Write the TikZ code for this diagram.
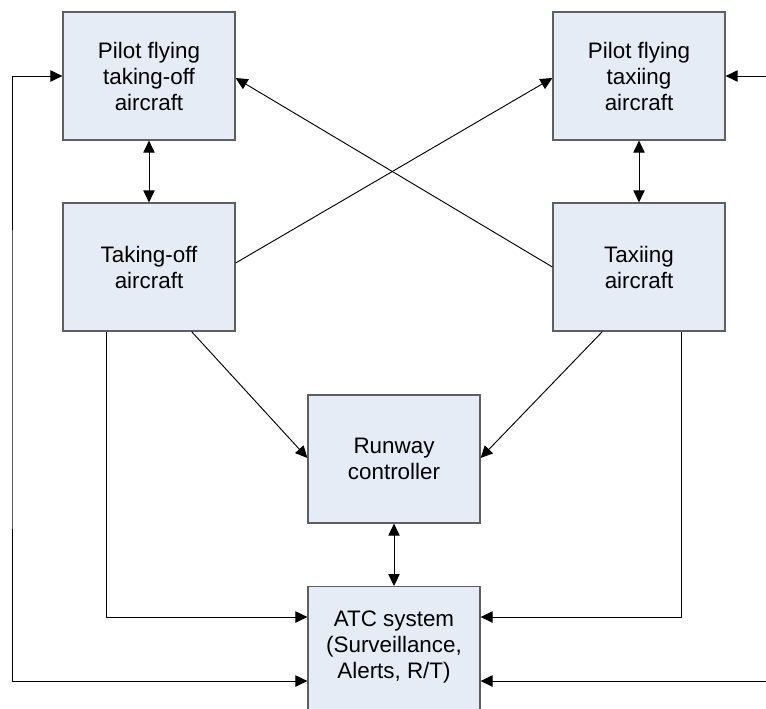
\documentclass[tikz,border=0pt]{standalone}
\usepackage{fontspec}
\setmainfont{Liberation Sans}
\usetikzlibrary{arrows.meta,calc}
\definecolor{boxfill}{RGB}{230,236,246}
\definecolor{boxline}{RGB}{95,95,95}
\tikzset{
  blk/.style={draw=boxline, line width=0.9pt, fill=boxfill, rectangle,
    minimum width=129pt, minimum height=96pt, inner sep=2pt, align=center,
    font=\fontsize{16.8pt}{19.5pt}\selectfont},
  conn/.style={draw=black, line width=0.7pt, -{Triangle[length=9pt,width=8.5pt]}},
  bconn/.style={draw=black, line width=0.7pt, {Triangle[length=9pt,width=8.5pt]}-{Triangle[length=9pt,width=8.5pt]}}
}
\begin{document}
\begin{tikzpicture}[x=0.75pt,y=-0.75pt]
\useasboundingbox (0,0) rectangle (766,708);
\clip (0,0) rectangle (766,708);
\node[blk] (pto) at (149,76) {Pilot flying\\taking-off\\aircraft};
\node[blk] (ptx) at (639,76) {Pilot flying\\taxiing\\aircraft};
\node[blk] (to) at (149,267) {Taking-off\\aircraft};
\node[blk] (tx) at (639,267) {Taxiing\\aircraft};
\node[blk] (rc) at (394,459) {Runway\\controller};
\node[blk, minimum height=140pt, anchor=north] (atc) at (394,586) {};
\node[font=\fontsize{16.8pt}{19.5pt}\selectfont, align=center] (atct) at (394,647) {ATC system\\(Surveillance,\\Alerts, R/T)};
\coordinate (L) at (12,380);
\coordinate (R1) at (770,76);
\coordinate (R2) at (770,681);
% vertical double arrows
\draw[bconn] (pto) -- (to);
\draw[bconn] (ptx) -- (tx);
\draw[bconn] (rc) -- (atc.north);
% crossing lines
\draw[conn] ($(to.east)+(0,-4)$) -- ($(ptx.west)+(0,2)$);
\draw[conn] (tx.west) -- ($(pto.east)+(0,2)$);
% to runway controller
\draw[conn] ($(to.south east)+(-44,0)$) -- ($(rc.west)+(0,-1)$);
\draw[conn] ($(tx.south west)+(50,0)$) -- ($(rc.east)+(0,-1)$);
% to ATC
\draw[conn] ($(to.south west)+(44,0)$) |- ($(atc.north west)+(0,31)$);
\draw[conn] ($(tx.south east)+(-44,0)$) |- ($(atc.north east)+(0,31)$);
\draw[bconn] (pto.west) -| (L) |- ($(atc.north west)+(0,95)$);
\draw[conn] (R1) -- (ptx.east);
\draw[conn] (R2) -- ($(atc.north east)+(0,95)$);
\end{tikzpicture}
\end{document}
